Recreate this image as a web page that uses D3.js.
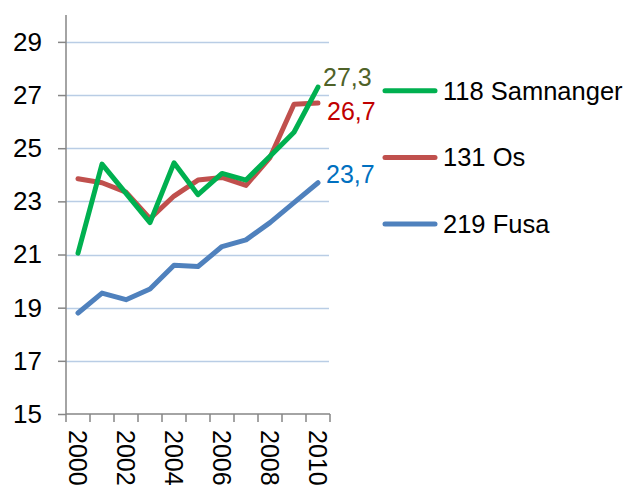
<!DOCTYPE html>
<html>
<head>
<meta charset="utf-8">
<script src="https://cdn.jsdelivr.net/npm/d3@7"></script>
<style>
  body { margin: 0; background: #fff; }
  svg text { font-family: "Liberation Sans", Arial, sans-serif; }
</style>
</head>
<body>
<svg id="chart" width="634" height="488"></svg>
<script>
// values
const years = [2000, 2001, 2002, 2003, 2004, 2005, 2006, 2007, 2008, 2009, 2010];
const samnanger = [21.05, 24.4, 23.3, 22.2, 24.45, 23.25, 24.05, 23.8, 24.7, 25.6, 27.3];
const os = [23.85, 23.7, 23.35, 22.35, 23.2, 23.8, 23.9, 23.6, 24.65, 26.65, 26.7];
const fusa = [18.8, 19.55, 19.3, 19.7, 20.6, 20.55, 21.3, 21.55, 22.2, 22.95, 23.7];
const yTicks = [15, 17, 19, 21, 23, 25, 27, 29];
const yearLabels = [2000, 2002, 2004, 2006, 2008, 2010];

const series = [
  { name: "118 Samnanger", values: samnanger, color: "#00B050", label: "27,3", labelColor: "#4F6228" },
  { name: "131 Os", values: os, color: "#C0504D", label: "26,7", labelColor: "#C00000" },
  { name: "219 Fusa", values: fusa, color: "#4F81BD", label: "23,7", labelColor: "#0070C0" },
];

const svg = d3.select("#chart");
const m = { left: 66, right: 330, top: 15, bottom: 414 };
const fs = 25;

const x = d3.scaleBand().domain(years).range([m.left, m.right]);
const y = d3.scaleLinear().domain([15, 30]).range([m.bottom, m.top + 0.3]);

// gridlines
svg.append("g").selectAll("line").data(yTicks.slice(1)).join("line")
  .attr("x1", m.left).attr("x2", m.right - 1)
  .attr("y1", d => Math.round(y(d)) + 0.5).attr("y2", d => Math.round(y(d)) + 0.5)
  .attr("stroke", "#B9CDE5").attr("stroke-width", 1.5);

// y axis
svg.append("g")
  .attr("transform", `translate(${m.left},0)`)
  .call(d3.axisLeft(y).tickValues(yTicks).tickSize(8).tickPadding(16).tickFormat(d3.format("d")))
  .call(g => g.select(".domain").attr("d", `M0,${m.top}V${m.bottom}`).attr("stroke", "#868686").attr("stroke-width", 1.5))
  .call(g => g.selectAll(".tick line").attr("stroke", "#868686").attr("stroke-width", 1.5))
  .call(g => g.selectAll("text").attr("font-size", 26).attr("fill", "#000").attr("font-family", null));

// x axis line and ticks at category boundaries
const xb = svg.append("g");
xb.append("line")
  .attr("x1", m.left).attr("x2", m.right).attr("y1", m.bottom).attr("y2", m.bottom)
  .attr("stroke", "#868686").attr("stroke-width", 1.5);
xb.selectAll("line.tk").data([...years.map(d => x(d)), m.right]).join("line")
  .attr("class", "tk")
  .attr("x1", d => d).attr("x2", d => d)
  .attr("y1", m.bottom).attr("y2", m.bottom + 8)
  .attr("stroke", "#868686").attr("stroke-width", 1.5);
xb.selectAll("text").data(yearLabels).join("text")
  .attr("transform", d => `translate(${x(d) + x.bandwidth() / 2},${m.bottom + 16}) rotate(90)`)
  .attr("dominant-baseline", "central")
  .attr("font-size", fs)
  .text(d => d);

// lines
const line = d3.line()
  .x((d, i) => x(years[i]) + x.bandwidth() / 2)
  .y(d => y(d));

svg.append("g").selectAll("path").data([...series].reverse()).join("path")
  .attr("d", s => line(s.values))
  .attr("fill", "none")
  .attr("stroke", s => s.color)
  .attr("stroke-width", 5)
  .attr("stroke-linejoin", "round")
  .attr("stroke-linecap", "round");

// end labels
const labelDx = [5, 9, 8];
const labelDy = [-10, 8, -9];
svg.append("g").selectAll("text").data(series).join("text")
  .attr("x", (s, i) => x(2010) + x.bandwidth() / 2 + labelDx[i])
  .attr("y", (s, i) => y(s.values[s.values.length - 1]) + labelDy[i])
  .attr("dominant-baseline", "central")
  .attr("font-size", fs)
  .attr("fill", s => s.labelColor)
  .text(s => s.label);

// legend
const lg = svg.append("g").selectAll("g").data(series).join("g")
  .attr("transform", (s, i) => `translate(383,${90.7 + i * 66.7})`);
lg.append("line")
  .attr("x1", 2).attr("x2", 52)
  .attr("stroke", s => s.color).attr("stroke-width", 5).attr("stroke-linecap", "round");
lg.append("text")
  .attr("x", 60)
  .attr("dominant-baseline", "central")
  .attr("font-size", 25.5)
  .text(s => s.name);
</script>
</body>
</html>
